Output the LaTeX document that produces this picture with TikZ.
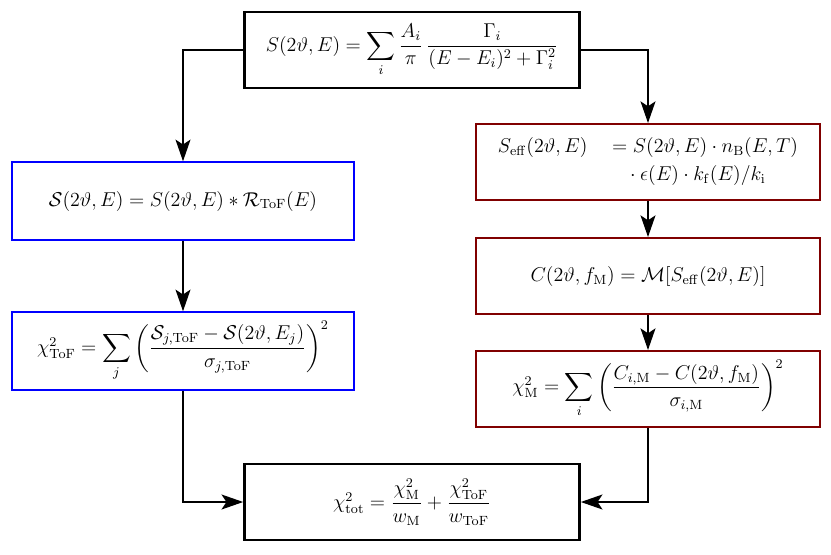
\documentclass[tikz,border=0pt]{standalone}
\usepackage{amsmath}
\usetikzlibrary{arrows.meta}
\begin{document}
\begin{tikzpicture}[x=0.6pt,y=-0.6pt,
  every node/.style={font=\fontsize{11.5}{14}\selectfont},
  box/.style={draw,line width=1.6pt,minimum width=201pt,minimum height=45.6pt,inner sep=0pt},
  bbox/.style={draw=blue,line width=1.2pt,minimum width=205pt,minimum height=46.5pt,inner sep=0pt},
  rbox/.style={draw=red!50!black,line width=1.2pt,minimum width=206pt,minimum height=45.6pt,inner sep=0pt},
  conn/.style={line width=0.7pt,-{Stealth[length=13pt,width=9pt,inset=3pt]}}]
\useasboundingbox (0,0) rectangle (831,554);
\node[box] (top) at (412,50) {$S(2\vartheta,E)=\displaystyle\sum_i\frac{A_i}{\pi}\,\frac{\Gamma_i}{(E-E_i)^2+\Gamma_i^2}$};
\node[bbox] (b1) at (183,201) {$\mathcal{S}(2\vartheta,E)=S(2\vartheta,E)\ast\mathcal{R}_{\mathrm{ToF}}(E)$};
\node[bbox] (b2) at (183,351) {$\chi^2_{\mathrm{ToF}}=\displaystyle\sum_j\left(\frac{\mathcal{S}_{j,\mathrm{ToF}}-\mathcal{S}(2\vartheta,E_j)}{\sigma_{j,\mathrm{ToF}}}\right)^2$};
\node[rbox] (r1) at (648,162) {$\begin{aligned}S_{\mathrm{eff}}(2\vartheta,E)\quad&=S(2\vartheta,E)\cdot n_{\mathrm{B}}(E,T)\\&\quad\cdot\epsilon(E)\cdot k_{\mathrm{f}}(E)/k_{\mathrm{i}}\end{aligned}$};
\node[rbox] (r2) at (648,276) {$C(2\vartheta,f_{\mathrm{M}})=\mathcal{M}[S_{\mathrm{eff}}(2\vartheta,E)]$};
\node[rbox] (r3) at (648,389) {$\chi^2_{\mathrm{M}}=\displaystyle\sum_i\left(\frac{C_{i,\mathrm{M}}-C(2\vartheta,f_{\mathrm{M}})}{\sigma_{i,\mathrm{M}}}\right)^2$};
\node[box] (bot) at (412,502) {$\chi^2_{\mathrm{tot}}=\dfrac{\chi^2_{\mathrm{M}}}{w_{\mathrm{M}}}+\dfrac{\chi^2_{\mathrm{ToF}}}{w_{\mathrm{ToF}}}$};
\draw[conn] (top.west) -| (b1.north);
\draw[conn] (top.east) -| (r1.north);
\draw[conn] (b1) -- (b2);
\draw[conn] (r1) -- (r2);
\draw[conn] (r2) -- (r3);
\draw[conn] (b2.south) |- (bot.west);
\draw[conn] (r3.south) |- (bot.east);
\end{tikzpicture}
\end{document}
